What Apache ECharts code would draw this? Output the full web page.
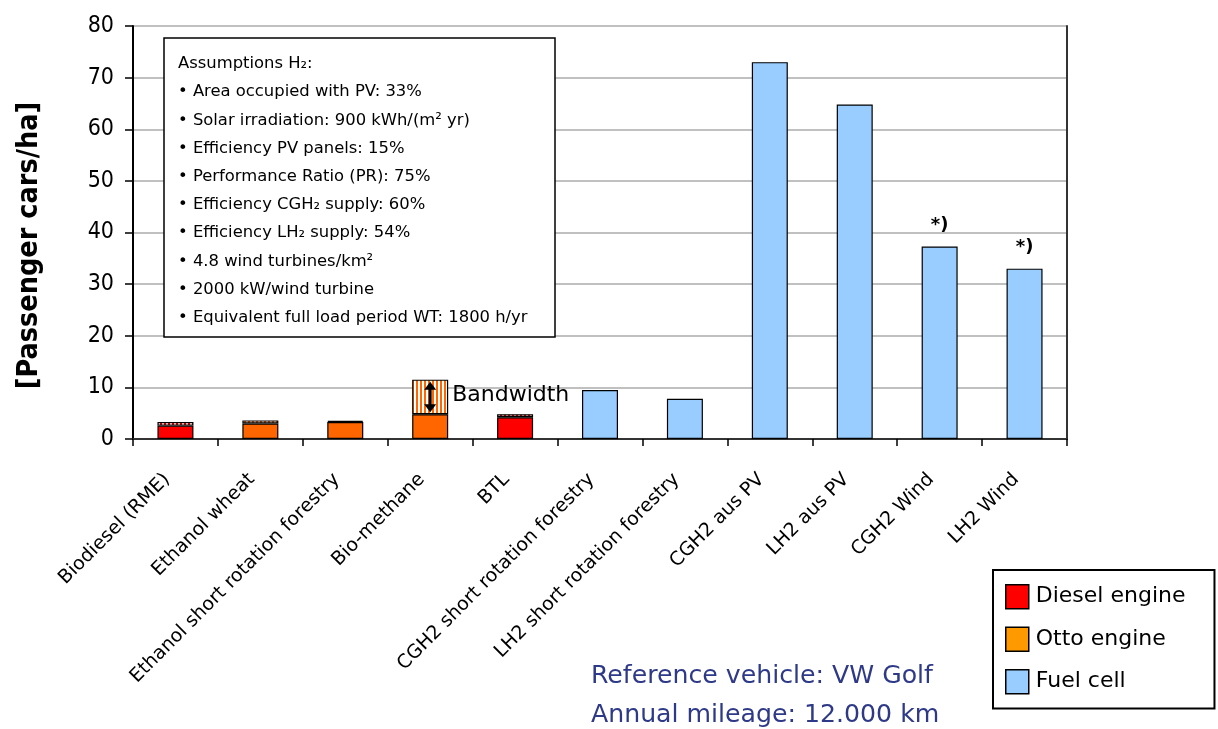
<!DOCTYPE html>
<html>
<head>
<meta charset="utf-8">
<script src="https://cdn.jsdelivr.net/npm/echarts@6/dist/echarts.min.js"></script>
<style>
html,body{margin:0;padding:0;background:#fff;}
#main{width:1218px;height:729px;}
</style>
</head>
<body>
<div id="main"></div>
<script>
// ---- data ----
const categories = ['Biodiesel (RME)','Ethanol wheat','Ethanol short rotation forestry','Bio-methane','BTL',
  'CGH2 short rotation forestry','LH2 short rotation forestry','CGH2 aus PV','LH2 aus PV','CGH2 Wind','LH2 Wind'];
const dieselBase = [2.6, '-', '-', '-', 4.2, '-', '-', '-', '-', '-', '-'];
const ottoBase   = ['-', 3.0, 3.3, 4.8, '-', '-', '-', '-', '-', '-', '-'];
const fuelCell   = ['-', '-', '-', '-', '-', 9.5, 7.8, 73.0, 64.8, 37.3, 33.0];
const bandwidth  = [0.7, 0.6, 0.2, 6.7, 0.6, '-', '-', '-', '-', '-', '-'];
const footnoteMarks = ['', '', '', '', '', '', '', '', '', '*)', '*)'];
const yTicks = [0, 10, 20, 30, 40, 50, 60, 70, 80];
const assumptions = [
  'Assumptions H\u2082:',
  '\u2022 Area occupied with PV: 33%',
  '\u2022 Solar irradiation: 900 kWh/(m\u00B2 yr)',
  '\u2022 Efficiency PV panels: 15%',
  '\u2022 Performance Ratio (PR): 75%',
  '\u2022 Efficiency CGH\u2082 supply: 60%',
  '\u2022 Efficiency LH\u2082 supply: 54%',
  '\u2022 4.8 wind turbines/km\u00B2',
  '\u2022 2000 kW/wind turbine',
  '\u2022 Equivalent full load period WT: 1800 h/yr'
];
const bandLabel = 'Bandwidth';
const bandCategory = 'Bio-methane';
const noteLines = ['Reference vehicle: VW Golf', 'Annual mileage: 12.000 km'];

// ---- styling ----
const FONT = 'DejaVu Sans, sans-serif';
const FONT_C = 'DejaVu Sans Condensed, DejaVu Sans, sans-serif';
const RED = '#FF0000', ORANGE = '#FF6600', ORANGE_LEG = '#FF9900', BLUE = '#99CCFF';

function stripePattern(color, stripeW, gapW) {
  const c = document.createElement('canvas');
  c.width = stripeW + gapW; c.height = 4;
  const ctx = c.getContext('2d');
  ctx.fillStyle = '#fff'; ctx.fillRect(0, 0, c.width, c.height);
  ctx.fillStyle = color; ctx.fillRect(0, 0, stripeW, c.height);
  return { image: c, repeat: 'repeat' };
}
const orangeStripes = stripePattern(ORANGE, 2, 2);
const redStripes = stripePattern(RED, 2, 2);
const dieselIdx = dieselBase.map(v => v !== '-');

const chart = echarts.init(document.getElementById('main'), null, {renderer: 'canvas'});
const border = {borderColor: '#000', borderWidth: 1.2};

const option = {
  animation: false,
  backgroundColor: '#fff',
  textStyle: {fontFamily: FONT},
  grid: {left: 133, right: 151, top: 26, bottom: 290},
  legend: {
    orient: 'vertical', left: 993, top: 570,
    data: ['Diesel engine', 'Otto engine', 'Fuel cell'],
    icon: 'rect', itemWidth: 23, itemHeight: 24, itemGap: 17,
    padding: [14, 29, 14, 12],
    borderColor: '#000', borderWidth: 2, backgroundColor: '#fff',
    textStyle: {fontSize: 22, fontFamily: FONT, color: '#000', padding: [0, 0, 0, 2]},
    itemStyle: {borderColor: '#000', borderWidth: 1.5},
    selectedMode: false
  },
  xAxis: [{
    type: 'category', data: categories,
    axisLine: {lineStyle: {color: '#000', width: 2}},
    axisTick: {show: true, alignWithLabel: false, length: 7, lineStyle: {color: '#000', width: 1.5}},
    axisLabel: {rotate: 45, fontSize: 19, color: '#000', fontFamily: FONT, interval: 0, margin: 29,
      padding: [0, 12, 0, 0]},
    splitLine: {show: false}
  }, {
    type: 'category', data: categories, position: 'top',
    axisLine: {show: true, lineStyle: {color: '#333', width: 2}},
    axisTick: {show: false}, axisLabel: {show: false}, splitLine: {show: false}
  }],
  yAxis: [{
    type: 'value', min: 0, max: 80, interval: 10,
    name: '[Passenger cars/ha]', nameLocation: 'middle', nameGap: 89,
    nameTextStyle: {fontSize: 28.5, fontWeight: 'bold', color: '#000', fontFamily: FONT_C, padding: [0, 26, 0, 0]},
    axisLine: {show: true, lineStyle: {color: '#000', width: 2}},
    axisTick: {show: true, length: 8, lineStyle: {color: '#000', width: 1.5}},
    axisLabel: {fontSize: 23, color: '#000', fontFamily: FONT_C, margin: 19,
      formatter: v => yTicks.indexOf(v) >= 0 ? String(v) : ''},
    splitLine: {show: true, lineStyle: {color: '#C0C0C0', width: 2}}
  }, {
    type: 'value', min: 0, max: 80, interval: 10, position: 'right',
    axisLine: {show: true, lineStyle: {color: '#333', width: 2}},
    axisTick: {show: false}, axisLabel: {show: false}, splitLine: {show: false}
  }],
  series: [
    {name: 'Diesel engine', type: 'bar', stack: 'total', barWidth: 36,
      itemStyle: Object.assign({color: RED}, border), data: dieselBase},
    {name: 'Otto engine', type: 'bar', stack: 'total', barWidth: 36,
      itemStyle: Object.assign({color: ORANGE_LEG}, border),
      data: ottoBase.map(v => v === '-' ? '-' : {value: v, itemStyle: {color: ORANGE}})},
    {name: 'Fuel cell', type: 'bar', stack: 'total', barWidth: 36,
      itemStyle: Object.assign({color: BLUE}, border),
      label: {show: true, position: 'top', fontSize: 18, fontWeight: 'bold', color: '#000',
        fontFamily: FONT, distance: 12,
        formatter: p => footnoteMarks[p.dataIndex]},
      data: fuelCell},
    {name: 'band', type: 'bar', stack: 'total', barWidth: 36,
      itemStyle: Object.assign({}, border),
      data: bandwidth.map((v, i) => v === '-' ? '-' :
        {value: v, itemStyle: {color: dieselIdx[i] ? redStripes : orangeStripes, borderColor: '#000', borderWidth: 1.2}})}
  ]
};
chart.setOption(option);

// ---- annotations ----
const bi = categories.indexOf(bandCategory);
const baseVal = ottoBase[bi];
const topVal = ottoBase[bi] + bandwidth[bi];
const pBot = chart.convertToPixel({xAxisIndex: 0, yAxisIndex: 0}, [bi, baseVal]);
const pTop = chart.convertToPixel({xAxisIndex: 0, yAxisIndex: 0}, [bi, topVal]);
const ax = pBot[0], yb = pBot[1], yt = pTop[1];
const ah = 9, aw = 6;
const graphics = [
  {type: 'line', shape: {x1: ax, y1: yt + ah, x2: ax, y2: yb - ah}, style: {stroke: '#000', lineWidth: 3}, z: 100},
  {type: 'polygon', shape: {points: [[ax, yt + 2], [ax - aw, yt + ah + 1], [ax + aw, yt + ah + 1]]}, style: {fill: '#000'}, z: 100},
  {type: 'polygon', shape: {points: [[ax, yb - 2], [ax - aw, yb - ah - 1], [ax + aw, yb - ah - 1]]}, style: {fill: '#000'}, z: 100},
  {type: 'text', x: ax + 22, y: (yt + yb) / 2 - 2,
    style: {text: bandLabel, fontSize: 22, fontFamily: FONT, fill: '#000', textVerticalAlign: 'middle'}, z: 100}
];
// assumptions box
const boxX = 164, boxY = 38, boxW = 391, boxH = 299;
graphics.push({type: 'rect', shape: {x: boxX, y: boxY, width: boxW, height: boxH},
  style: {fill: '#fff', stroke: '#000', lineWidth: 1.5}, z: 50});
assumptions.forEach((t, i) => {
  graphics.push({type: 'text', x: boxX + 14, y: boxY + 26 + i * 28.2,
    style: {text: t, fontSize: 16.4, fontFamily: FONT, fill: '#000', textVerticalAlign: 'middle'}, z: 51});
});
// reference note
noteLines.forEach((t, i) => {
  graphics.push({type: 'text', x: 591, y: 676 + i * 39,
    style: {text: t, fontSize: 25.2, fontFamily: FONT, fill: '#2E3A87', textVerticalAlign: 'middle'}, z: 51});
});
chart.setOption({graphic: graphics});
</script>
</body>
</html>
